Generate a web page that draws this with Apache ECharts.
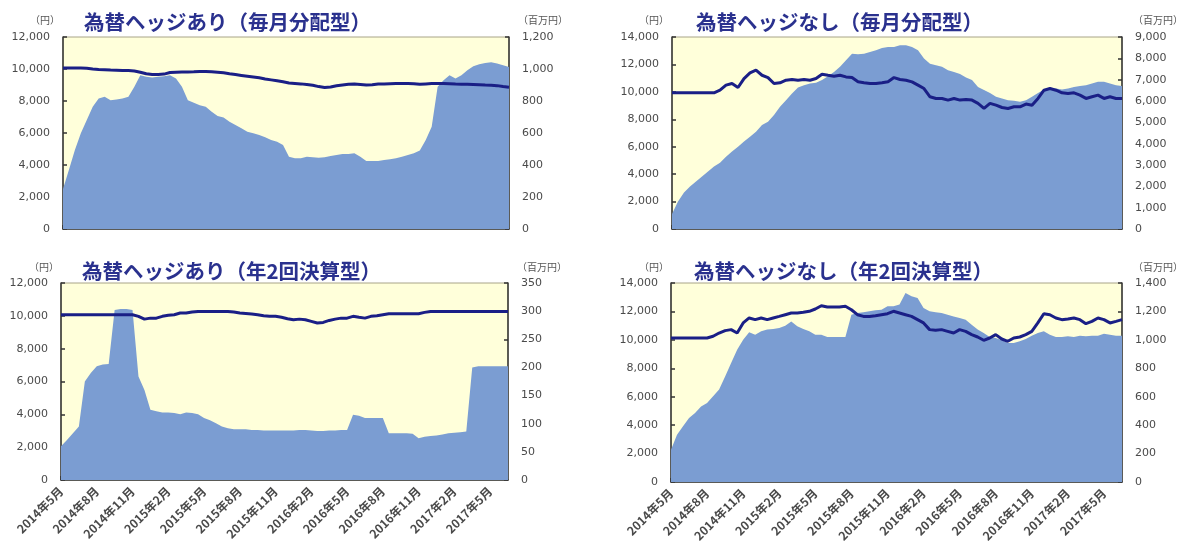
<!DOCTYPE html>
<html><head><meta charset="utf-8">
<script src="https://cdn.jsdelivr.net/npm/echarts@6/dist/echarts.min.js"></script>
<style>html,body{margin:0;padding:0;background:#fff}#c{width:1192px;height:550px}</style>
</head><body><div id="c"></div>
<script>
// x-axis tick labels (every 3 months); data points are half-monthly from 2014年5月 to 2017年6月
const tickLabels = ['2014年5月','2014年8月','2014年11月','2015年2月','2015年5月','2015年8月','2015年11月','2016年2月','2016年5月','2016年8月','2016年11月','2017年2月','2017年5月'];
const categories = [];
for (let y = 2014, m = 5; y < 2017 || (y === 2017 && m <= 6); m++) {
  if (m > 12) { m = 1; y++; }
  categories.push(y + '年' + m + '月');
  categories.push(y + '年' + m + '月後半');
}

const titles = ['為替ヘッジあり（毎月分配型）','為替ヘッジなし（毎月分配型）','為替ヘッジあり（年2回決算型）','為替ヘッジなし（年2回決算型）'];

// 純資産総額（百万円, right axis)
const assets1 = [250,370,494,598,681,764,816,826,805,810,816,826,889,961,951,947,951,955,961,940,889,805,789,774,764,733,706,697,670,650,629,608,598,587,573,556,546,525,452,442,442,452,448,446,448,457,463,469,469,473,452,425,425,425,432,436,442,452,463,473,490,556,639,889,930,961,940,961,992,1017,1030,1038,1042,1034,1024,1013];
// 基準価額（円, left axis)
const nav1 = [10070,10070,10070,10060,10040,10000,9970,9950,9930,9920,9900,9900,9880,9800,9700,9650,9650,9680,9780,9800,9810,9820,9830,9850,9840,9830,9800,9760,9700,9650,9600,9550,9500,9450,9380,9320,9260,9200,9130,9100,9070,9030,8980,8900,8840,8870,8950,9000,9050,9060,9030,9000,9020,9060,9070,9080,9090,9090,9090,9080,9040,9070,9090,9090,9090,9080,9060,9050,9040,9030,9020,9000,8990,8960,8900,8860];

const assets2 = [700,1290,1710,1990,2230,2460,2690,2930,3110,3390,3630,3860,4100,4330,4560,4870,5030,5340,5730,6040,6350,6630,6740,6820,6850,6980,7160,7360,7600,7910,8220,8190,8220,8300,8380,8490,8530,8530,8610,8610,8530,8380,7990,7750,7680,7600,7440,7360,7260,7100,6980,6660,6510,6380,6200,6120,6040,6010,5960,6040,6200,6380,6540,6590,6590,6540,6590,6660,6700,6740,6820,6900,6900,6820,6740,6700];
const nav2 = [9930,9930,9930,9930,9930,9930,9930,9930,10120,10490,10610,10320,10970,11380,11580,11210,11040,10610,10660,10850,10900,10850,10900,10850,10970,11290,11210,11140,11210,11090,11040,10730,10660,10610,10610,10660,10730,11040,10900,10850,10730,10490,10240,9640,9520,9520,9400,9520,9400,9450,9400,9160,8790,9160,9030,8860,8790,8910,8910,9110,9030,9520,10120,10240,10120,9930,9880,9930,9760,9520,9640,9760,9520,9640,9520,9520];

const assets3 = [60,71,83,95,175,190,202,205,206,302,304,304,302,184,160,125,122,120,120,119,117,120,119,117,110,106,101,95,92,90,90,90,89,89,88,88,88,88,88,88,89,89,88,87,87,88,88,89,89,116,114,110,110,110,110,83,83,83,83,82,74,77,78,79,81,83,84,85,86,200,202,202,202,202,202,202];
const nav3 = [10070,10070,10070,10070,10070,10070,10070,10070,10070,10070,10070,10070,10070,9970,9800,9860,9860,9970,10030,10070,10170,10170,10230,10270,10270,10270,10270,10270,10270,10230,10170,10140,10110,10070,10010,9970,9970,9910,9820,9760,9800,9760,9660,9560,9600,9720,9800,9860,9860,9970,9910,9860,9970,10010,10070,10130,10130,10130,10130,10130,10130,10210,10270,10270,10270,10270,10270,10270,10270,10270,10270,10270,10270,10270,10270,10270];

const assets4 = [227,333,392,450,485,532,556,603,650,743,837,931,1001,1053,1036,1060,1072,1076,1083,1100,1130,1095,1076,1060,1036,1036,1020,1020,1020,1020,1177,1189,1194,1201,1208,1212,1236,1236,1248,1330,1306,1294,1224,1201,1194,1189,1177,1165,1154,1142,1107,1072,1048,1020,1013,997,978,978,990,1006,1029,1048,1060,1036,1020,1020,1025,1020,1029,1025,1029,1029,1043,1036,1029,1029];
const nav4 = [10130,10130,10130,10130,10130,10130,10130,10250,10480,10650,10720,10480,11190,11540,11420,11540,11420,11540,11650,11770,11890,11890,11940,12010,12170,12400,12310,12310,12310,12360,12120,11770,11650,11650,11700,11770,11840,12010,11890,11770,11650,11420,11190,10720,10670,10720,10600,10480,10720,10600,10370,10200,9970,10130,10370,10060,9900,10130,10200,10370,10600,11190,11840,11770,11540,11420,11470,11540,11420,11140,11300,11540,11420,11190,11300,11420];

const assetsAll = [assets1, assets2, assets3, assets4];
const navAll = [nav1, nav2, nav3, nav4];
const leftMax = [12000, 14000, 12000, 14000];
const rightMax = [1200, 9000, 350, 1400];
const rightStep = [200, 1000, 50, 200];

const grids = [
  {left: 63, top: 37, width: 446, height: 192},
  {left: 672, top: 37, width: 450, height: 192},
  {left: 61, top: 283, width: 447, height: 197},
  {left: 671, top: 283, width: 451, height: 199}
];
const titlePos = [[79, 7], [691, 7], [77, 256], [689, 256]];
const yenPos = [[25, 10], [634, 10], [24, 257], [634, 257]];
const mPos = [[513, 10], [1128, 10], [512, 257], [1128, 257]];

const AXIS = '#333';
const LBL = {color: '#4a4a4a', fontSize: 11, fontFamily: 'DejaVu Sans'};
const tickEvery = (i) => i % 6 === 0;

const option = {
  backgroundColor: '#fff',
  animation: false,
  title: [],
  grid: grids.map(g => Object.assign({show: true, backgroundColor: '#FFFFDA', borderColor: '#a8a488', borderWidth: 1}, g)),
  xAxis: [], yAxis: [], series: []
};

for (let p = 0; p < 4; p++) {
  option.title.push({text: titles[p], left: titlePos[p][0], top: titlePos[p][1],
    textStyle: {color: '#2A318E', fontSize: 20.5, fontWeight: 'bold', fontFamily: 'Noto Sans CJK JP'}});
  option.title.push({text: '（円）', left: yenPos[p][0], top: yenPos[p][1],
    textStyle: {color: '#555', fontSize: 10, fontWeight: 'normal', fontFamily: 'Noto Sans CJK JP'}});
  option.title.push({text: '（百万円）', left: mPos[p][0], top: mPos[p][1],
    textStyle: {color: '#555', fontSize: 10, fontWeight: 'normal', fontFamily: 'Noto Sans CJK JP'}});

  option.xAxis.push({
    type: 'category', gridIndex: p, data: categories, boundaryGap: false,
    axisLine: {lineStyle: {color: AXIS, width: 1.5}},
    axisTick: {inside: true, interval: (i) => tickEvery(i), length: 4, lineStyle: {color: AXIS, width: 1.5}},
    axisLabel: {show: p >= 2, interval: (i) => tickEvery(i), rotate: 45, margin: 9,
      formatter: (v, i) => tickLabels[i / 6], color: '#4a4a4a', fontSize: 12, fontWeight: 'bold', fontFamily: 'Noto Sans CJK JP'},
    splitLine: {show: false}
  });
  option.yAxis.push({
    type: 'value', gridIndex: p, position: 'left', min: 0, max: leftMax[p], interval: 2000,
    axisLine: {show: true, lineStyle: {color: AXIS, width: 1.5}},
    axisTick: {show: true, inside: true, length: 4, lineStyle: {color: AXIS, width: 1.5}},
    axisLabel: Object.assign({margin: 13, formatter: v => v.toLocaleString('en-US')}, LBL),
    splitLine: {show: false}
  });
  option.yAxis.push({
    type: 'value', gridIndex: p, position: 'right', min: 0, max: rightMax[p], interval: rightStep[p],
    axisLine: {show: true, lineStyle: {color: AXIS, width: 1.5}},
    axisTick: {show: true, inside: true, length: 4, lineStyle: {color: AXIS, width: 1.5}},
    axisLabel: Object.assign({margin: 13, formatter: v => v.toLocaleString('en-US')}, LBL),
    splitLine: {show: false}
  });
  option.series.push({
    type: 'line', xAxisIndex: p, yAxisIndex: p * 2 + 1, data: assetsAll[p],
    showSymbol: false, lineStyle: {width: 0}, areaStyle: {color: '#7B9DD2', opacity: 1}, z: 2
  });
  option.series.push({
    type: 'line', xAxisIndex: p, yAxisIndex: p * 2, data: navAll[p],
    showSymbol: false, lineStyle: {width: 3, color: '#1A1F86'}, z: 3
  });
}

const chart = echarts.init(document.getElementById('c'));
chart.setOption(option);
</script>
</body></html>
